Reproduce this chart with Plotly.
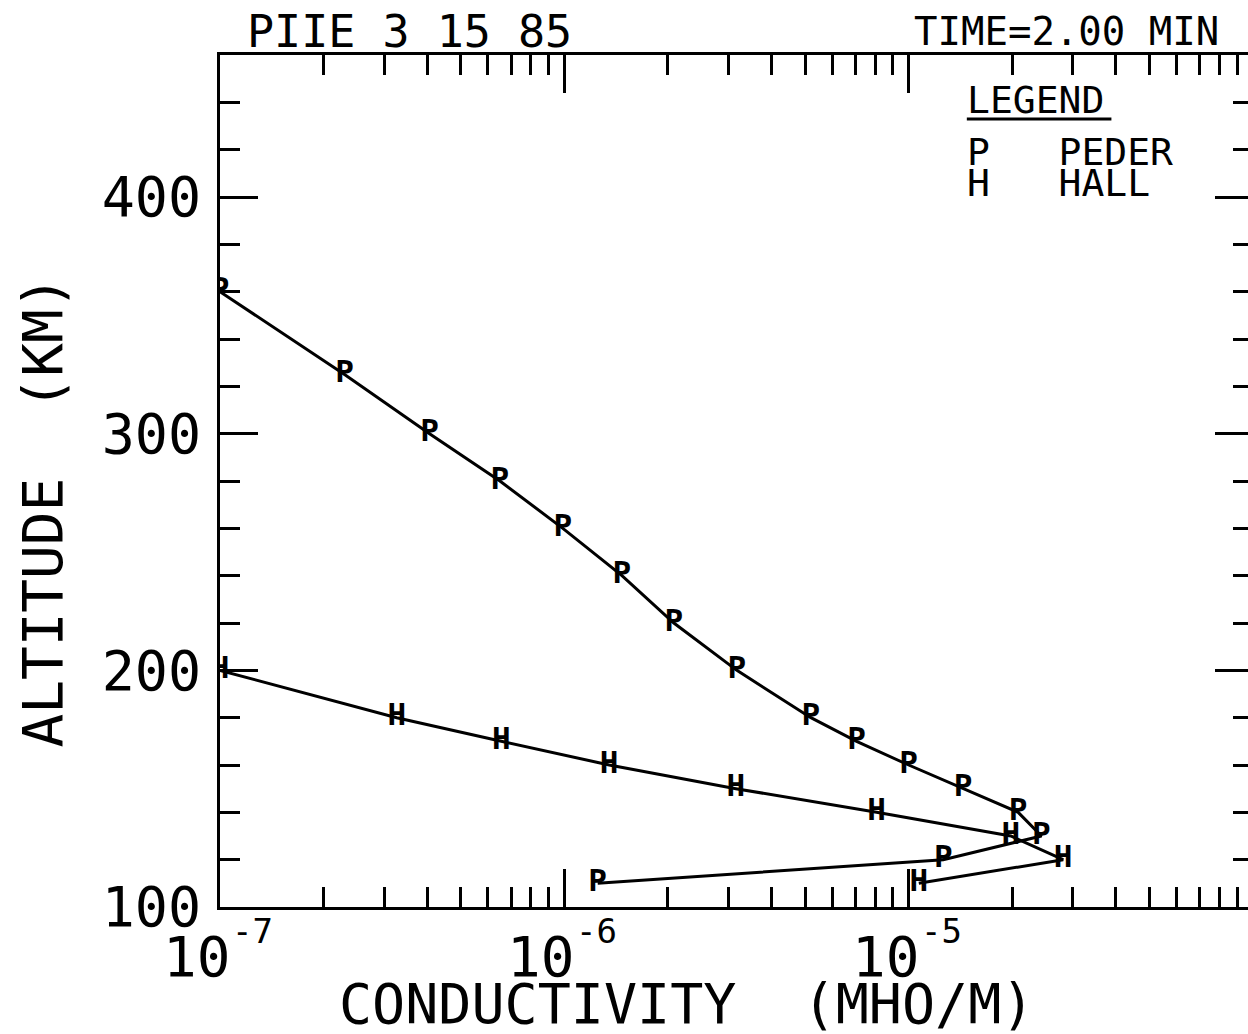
import numpy as np
import plotly.graph_objects as go

# ---------------- data ----------------
peder_alt = [360, 325, 300, 280, 260, 240, 220, 200, 180, 170, 160, 150, 140, 130, 120, 110]
peder_cond = [1.0e-7, 2.3e-7, 4.06e-7, 6.5e-7, 9.9e-7, 1.47e-6, 2.08e-6, 3.17e-6,
              5.2e-6, 7.06e-6, 1.0e-5, 1.44e-5, 2.08e-5, 2.43e-5, 1.26e-5, 1.25e-6]

hall_alt = [200, 180, 170, 160, 150, 140, 130, 120, 110]
hall_cond = [1.0e-7, 3.26e-7, 6.56e-7, 1.35e-6, 3.15e-6, 8.07e-6, 1.98e-5, 2.81e-5, 1.07e-5]

x_range_decades = [1e-7, 1e-4]
x_major = [1e-7, 1e-6, 1e-5, 1e-4]
x_label_decades = [1e-7, 1e-6, 1e-5]
x_label_base = ["10", "10", "10"]
x_label_exp = ["-7", "-6", "-5"]
x_minor = [m * d for d in [1e-7, 1e-6, 1e-5] for m in range(2, 10)]

y_range = [100, 460]
y_major = [100, 200, 300, 400]
y_major_text = ["100", "200", "300", "400"]
y_minor = [a for a in range(120, 460, 20) if a % 100 != 0]

title_left = "PIIE 3 15 85"
title_right = "TIME=2.00 MIN"
x_title = "CONDUCTIVITY&nbsp; (MHO/M)"
y_title = "ALTITUDE&nbsp; (KM)"
legend_head = "LEGEND"
legend_rows = ["P&nbsp;&nbsp;&nbsp;PEDER", "H&nbsp;&nbsp;&nbsp;HALL"]

FONT = "DejaVu Sans Mono"

fig = go.Figure()
fig.add_trace(go.Scatter(
    x=peder_cond, y=peder_alt, mode="lines+text",
    text=["P"] * len(peder_alt), textposition="middle center",
    textfont=dict(family=FONT, size=31, color="black", weight="bold"),
    line=dict(color="black", width=3), cliponaxis=True, showlegend=False))
fig.add_trace(go.Scatter(
    x=hall_cond, y=hall_alt, mode="lines+text",
    text=["H"] * len(hall_alt), textposition="middle center",
    textfont=dict(family=FONT, size=31, color="black", weight="bold"),
    line=dict(color="black", width=3), cliponaxis=True, showlegend=False))

# The original frame runs slightly past the right edge of the page (cropped).
W, H = 1256, 1034
L, R, T, B = 220, 0, 55, 127
plot_w = W - L - R
plot_h = H - T - B

fig.update_xaxes(
    type="log", range=[np.log10(x_range_decades[0]), np.log10(x_range_decades[1])],
    tickmode="array", tickvals=x_major, showticklabels=False,
    ticks="inside", ticklen=38, tickwidth=3, tickcolor="black",
    minor=dict(tickmode="array", tickvals=x_minor, ticks="inside", ticklen=20,
               tickwidth=3, tickcolor="black", showgrid=False),
    showline=True, linewidth=3, linecolor="black", mirror="ticks",
    showgrid=False, zeroline=False)
fig.update_yaxes(
    range=y_range,
    tickmode="array", tickvals=y_major, ticktext=y_major_text,
    ticks="inside", ticklen=38, tickwidth=3, tickcolor="black",
    minor=dict(tickmode="array", tickvals=y_minor, ticks="inside", ticklen=20,
               tickwidth=3, tickcolor="black", showgrid=False),
    showline=True, linewidth=3, linecolor="black", mirror="ticks",
    showgrid=False, zeroline=False,
    tickfont=dict(family=FONT, size=55, color="black"),
    ticklabelstandoff=5)

def px_to_paper_x(px):
    return (px - L) / plot_w

def py_to_paper_y(py):
    return (H - B - py) / plot_h

ann = []
for v, base, ex in zip(x_label_decades, x_label_base, x_label_exp):
    ann.append(dict(x=np.log10(v), xref="x", y=0, yref="paper", text=base,
                    xanchor="right", yanchor="top", xshift=12, yshift=-15,
                    showarrow=False, font=dict(family=FONT, size=56, color="black")))
    ann.append(dict(x=np.log10(v), xref="x", y=0, yref="paper", text=ex,
                    xanchor="left", yanchor="top", xshift=10, yshift=-2,
                    showarrow=False, font=dict(family=FONT, size=34, color="black")))

ann.append(dict(x=px_to_paper_x(688), xref="paper", y=py_to_paper_y(1004), yref="paper",
                text=x_title, xanchor="center", yanchor="middle", showarrow=False,
                font=dict(family=FONT, size=55, color="black")))
ann.append(dict(x=px_to_paper_x(41), xref="paper", y=py_to_paper_y(512), yref="paper",
                text=y_title, textangle=-90, xanchor="center", yanchor="middle",
                showarrow=False, font=dict(family=FONT, size=56, color="black")))
ann.append(dict(x=px_to_paper_x(245), xref="paper", y=py_to_paper_y(31), yref="paper",
                text=title_left, xanchor="left", yanchor="middle", showarrow=False,
                font=dict(family=FONT, size=45, color="black")))
ann.append(dict(x=px_to_paper_x(1224), xref="paper", y=py_to_paper_y(31), yref="paper",
                text=title_right, xanchor="right", yanchor="middle", showarrow=False,
                font=dict(family=FONT, size=39, color="black")))
ann.append(dict(x=px_to_paper_x(967), xref="paper", y=py_to_paper_y(100), yref="paper",
                text=legend_head, xanchor="left", yanchor="middle", showarrow=False,
                font=dict(family=FONT, size=38, color="black")))
for i, row in enumerate(legend_rows):
    ann.append(dict(x=px_to_paper_x(967), xref="paper", y=py_to_paper_y(152 + 31 * i),
                    yref="paper", text=row, xanchor="left", yanchor="middle",
                    showarrow=False, font=dict(family=FONT, size=38, color="black")))

shapes = [dict(type="line", xref="paper", yref="paper",
               x0=px_to_paper_x(969), x1=px_to_paper_x(1114),
               y0=py_to_paper_y(119), y1=py_to_paper_y(119),
               line=dict(color="black", width=3))]

fig.update_layout(
    width=W, height=H, margin=dict(l=L, r=R, t=T, b=B, pad=0),
    paper_bgcolor="white", plot_bgcolor="white",
    annotations=ann, shapes=shapes, showlegend=False)

fig.write_html("out.html", config={"displayModeBar": False},
               post_script="document.body.style.margin='0';document.body.style.overflow='hidden';")
